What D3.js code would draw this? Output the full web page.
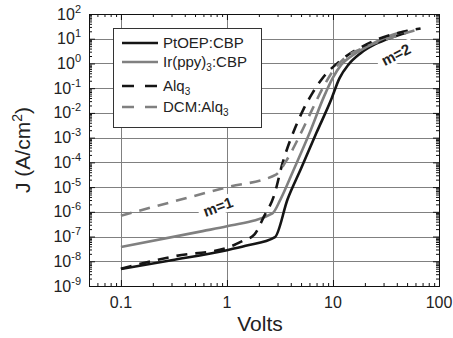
<!DOCTYPE html>
<html>
<head>
<meta charset="utf-8">
<script src="https://cdn.jsdelivr.net/npm/d3@7"></script>
<style>
  body { margin: 0; background: #fff; }
  text { font-family: "Liberation Sans", Arial, sans-serif; fill: #222; }
</style>
</head>
<body>
<svg id="chart"></svg>
<script>
// tick labels
const xTicks = [0.1, 1, 10, 100];
const xTickLabels = ['0.1', '1', '10', '100'];
const yExps = [-9, -8, -7, -6, -5, -4, -3, -2, -1, 0, 1, 2];

// series (Volts, A/cm2)
const ptoepV = [0.1, 0.3, 1, 1.5, 2.84, 3.73, 5, 7, 9.6, 11.5, 14, 18, 25, 35, 50];
const ptoepJ = [4.9e-9, 1.1e-8, 2.8e-8, 4.2e-8, 9.5e-8, 3.2e-6, 5.6e-5, 1.6e-3, 0.034, 0.25, 0.9, 2.5, 6, 11, 18];

const irV = [0.1, 0.59, 1, 2.69, 3.2, 4.2, 6, 8.3, 9.9, 12, 15, 20.4, 34, 50];
const irJ = [3.8e-8, 1.66e-7, 2.6e-7, 8.7e-7, 3.2e-6, 4.4e-5, 1.5e-3, 0.05, 0.25, 0.9, 2, 4.5, 13, 21];

const alqV = [0.1, 0.32, 1, 1.4, 1.81, 2.25, 2.77, 3.35, 4.4, 5.25, 6.4, 8, 11.5, 23.5, 67];
const alqJ = [5e-9, 1.6e-8, 3.5e-8, 6.6e-8, 1.2e-7, 6.8e-7, 4.3e-6, 9.5e-5, 2.5e-3, 0.0135, 0.063, 0.26, 1.2, 7.6, 26];

const dcmV = [0.1, 1, 2.9, 3.6, 4.8, 6.1, 8, 10, 13, 20, 35, 65];
const dcmJ = [7e-7, 9.8e-6, 3.2e-5, 1.1e-4, 1.1e-3, 9.3e-3, 0.1, 0.5, 1.7, 4.5, 11, 24];

const legendLabels = ['PtOEP:CBP', 'Ir(ppy)_3:CBP', 'Alq_3', 'DCM:Alq_3'];

const width = 453, height = 338;
const marginLeft = 89, marginRight = 439, marginTop = 14, marginBottom = 286;

const svg = d3.select('#chart')
  .attr('width', width)
  .attr('height', height)
  .attr('viewBox', [0, 0, width, height]);

svg.append('rect').attr('width', width).attr('height', height).attr('fill', '#fff');

const x = d3.scaleLog().domain([0.05, 100]).range([marginLeft, marginRight]);
const y = d3.scaleLog().domain([1e-9, 1e2]).range([marginBottom, marginTop]);

// minor tick values
const xMinor = [];
[0.01, 0.1, 1, 10].forEach((d) => { for (let k = 2; k <= 9; k++) { const v = d * k; if (v > 0.05 && v < 100) xMinor.push(v); } });
const yMinor = [];
yExps.slice(0, -1).forEach((e) => { for (let k = 2; k <= 9; k++) yMinor.push(k * Math.pow(10, e)); });
const yMajor = yExps.map((e) => Math.pow(10, e));

// grid
const grid = svg.append('g').attr('stroke', '#808080').attr('stroke-width', 1);
yMajor.slice(1, -1).forEach((v) => {
  const yy = Math.round(y(v)) + 0.5;
  grid.append('line').attr('x1', marginLeft).attr('x2', marginRight).attr('y1', yy).attr('y2', yy);
});
xTicks.slice(0, -1).forEach((v) => {
  const xx = Math.round(x(v)) + 0.5;
  grid.append('line').attr('x1', xx).attr('x2', xx).attr('y1', marginTop).attr('y2', marginBottom);
});

// curves
const line = d3.line()
  .x((d) => x(d[0]))
  .y((d) => y(d[1]))
  .curve(d3.curveMonotoneX);

const series = [
  { v: ptoepV, j: ptoepJ, color: '#151515', dash: null },
  { v: irV, j: irJ, color: '#808080', dash: null },
  { v: alqV, j: alqJ, color: '#151515', dash: '11,8' },
  { v: dcmV, j: dcmJ, color: '#808080', dash: '11,8' },
];

svg.append('g').selectAll('path')
  .data(series)
  .join('path')
  .attr('d', (s) => line(d3.zip(s.v, s.j)))
  .attr('fill', 'none')
  .attr('stroke', (s) => s.color)
  .attr('stroke-width', 2.6)
  .attr('stroke-dasharray', (s) => s.dash);

// slope labels
function slopeLabel(cx, cy, angle, label) {
  const g = svg.append('g').attr('transform', `translate(${cx},${cy}) rotate(${angle})`);
  g.append('rect').attr('x', -20).attr('y', -9).attr('width', 40).attr('height', 17).attr('fill', '#fff');
  g.append('text').attr('text-anchor', 'middle').attr('y', 5)
    .style('font-size', '15px').style('font-weight', 'bold').text(label);
}
slopeLabel(218, 207, -20, 'm=1');
slopeLabel(396, 55, -27, 'm=2');

// legend
const legend = svg.append('g');
legend.append('rect').attr('x', 113.5).attr('y', 28.5).attr('width', 148).attr('height', 99)
  .attr('fill', '#fff').attr('stroke', '#333').attr('stroke-width', 1);
const rowY = [43, 62, 86, 107];
legendLabels.forEach((lab, i) => {
  const s = series[i];
  legend.append('line').attr('x1', 122).attr('x2', 158).attr('y1', rowY[i]).attr('y2', rowY[i])
    .attr('stroke', s.color).attr('stroke-width', 2.6)
    .attr('stroke-dasharray', s.dash ? '12,11' : null);
  const t = legend.append('text').attr('x', 163).attr('y', rowY[i] + 5).style('font-size', '15px');
  const parts = lab.split('_');
  t.append('tspan').text(parts[0]);
  if (parts.length > 1) {
    t.append('tspan').attr('dy', 4).style('font-size', '10px').text(parts[1][0]);
    if (parts[1].length > 1) t.append('tspan').attr('dy', -4).text(parts[1].slice(1));
  }
});

// axes (inward ticks on all sides)
function addAxis(axis, tr) {
  svg.append('g').attr('transform', tr).call(axis)
    .call((g) => g.selectAll('line, path').attr('stroke', '#111'));
}
addAxis(d3.axisBottom(x).tickValues(xMinor).tickSize(-3).tickSizeOuter(0).tickFormat(''), `translate(0,${marginBottom})`);
addAxis(d3.axisBottom(x).tickValues(xTicks).tickSize(-6).tickSizeOuter(0).tickFormat(''), `translate(0,${marginBottom})`);
addAxis(d3.axisTop(x).tickValues(xMinor).tickSize(-3).tickSizeOuter(0).tickFormat(''), `translate(0,${marginTop})`);
addAxis(d3.axisTop(x).tickValues(xTicks).tickSize(-6).tickSizeOuter(0).tickFormat(''), `translate(0,${marginTop})`);
addAxis(d3.axisLeft(y).tickValues(yMinor).tickSize(-3).tickSizeOuter(0).tickFormat(''), `translate(${marginLeft},0)`);
addAxis(d3.axisLeft(y).tickValues(yMajor).tickSize(-6).tickSizeOuter(0).tickFormat(''), `translate(${marginLeft},0)`);
addAxis(d3.axisRight(y).tickValues(yMinor).tickSize(-3).tickSizeOuter(0).tickFormat(''), `translate(${marginRight},0)`);
addAxis(d3.axisRight(y).tickValues(yMajor).tickSize(-6).tickSizeOuter(0).tickFormat(''), `translate(${marginRight},0)`);

// x tick labels
svg.append('g').selectAll('text')
  .data(xTicks)
  .join('text')
  .attr('x', (d) => x(d))
  .attr('y', 308)
  .attr('text-anchor', 'middle')
  .style('font-size', '16px')
  .text((d, i) => xTickLabels[i]);

// y tick labels 10^n
const yl = svg.append('g').selectAll('text')
  .data(yExps)
  .join('text')
  .attr('x', 81)
  .attr('y', (d) => y(Math.pow(10, d)) + 5.5)
  .attr('text-anchor', 'end')
  .style('font-size', '16px');
yl.append('tspan').text('10');
yl.append('tspan').attr('dy', -7).style('font-size', '11px').text((d) => d);

// axis titles
svg.append('text').attr('x', 260).attr('y', 331).attr('text-anchor', 'middle')
  .style('font-size', '21px').text('Volts');
const yt = svg.append('text').attr('transform', 'translate(30,150) rotate(-90)')
  .attr('text-anchor', 'middle').style('font-size', '21px');
yt.append('tspan').text('J (A/cm');
yt.append('tspan').attr('dy', -8).style('font-size', '14px').text('2');
yt.append('tspan').attr('dy', 8).text(')');
</script>
</body>
</html>
